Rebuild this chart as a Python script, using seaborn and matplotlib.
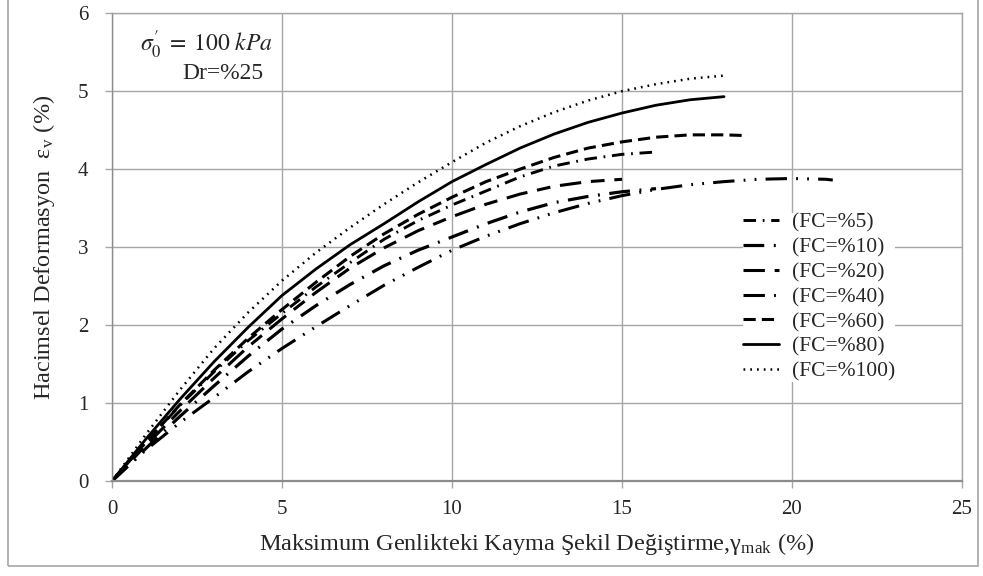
import matplotlib
matplotlib.use("Agg")
import matplotlib.pyplot as plt
from matplotlib.patches import Rectangle
import seaborn as sns

# --- values ---

fc_labels = ["(FC=%5)", "(FC=%10)", "(FC=%20)", "(FC=%40)", "(FC=%60)", "(FC=%80)", "(FC=%100)"]

fc5_x = [0, 1, 2, 3, 4, 5, 6, 7, 8, 9, 10, 11, 12, 13, 14, 15, 16]
fc5_y = [0, 0.5, 0.97, 1.4, 1.8, 2.15, 2.49, 2.8, 3.1, 3.34, 3.54, 3.72, 3.9, 4.04, 4.13, 4.19, 4.22]

fc10_x = [0, 1, 2, 3, 4, 5, 6, 7, 8, 9, 10, 11, 12, 13, 14, 15, 16]
fc10_y = [0, 0.42, 0.83, 1.22, 1.6, 1.95, 2.25, 2.52, 2.76, 2.96, 3.13, 3.3, 3.45, 3.57, 3.65, 3.71, 3.75]

fc20_x = [0, 1, 2, 3, 4, 5, 6, 7, 8, 9, 10, 11, 12, 13, 14, 15]
fc20_y = [0, 0.46, 0.9, 1.32, 1.72, 2.08, 2.42, 2.73, 2.99, 3.21, 3.39, 3.55, 3.68, 3.78, 3.84, 3.87]

fc40_x = [0, 1, 2, 3, 4, 5, 6, 7, 8, 9, 10, 11, 12, 13, 14, 15, 16, 17, 18, 19, 20, 21, 21.2]
fc40_y = [0, 0.4, 0.75, 1.07, 1.4, 1.7, 1.98, 2.25, 2.51, 2.74, 2.96, 3.14, 3.3, 3.44, 3.56, 3.66,
          3.74, 3.8, 3.84, 3.87, 3.88, 3.87, 3.86]

fc60_x = [0, 1, 2, 3, 4, 5, 6, 7, 8, 9, 10, 11, 12, 13, 14, 15, 16, 17, 18, 18.7]
fc60_y = [0, 0.5, 0.98, 1.42, 1.83, 2.2, 2.55, 2.88, 3.17, 3.42, 3.64, 3.84, 4.0, 4.15, 4.27,
          4.35, 4.41, 4.44, 4.44, 4.43]

fc80_x = [0, 1, 2, 3, 4, 5, 6, 7, 8, 9, 10, 11, 12, 13, 14, 15, 16, 17, 18]
fc80_y = [0, 0.54, 1.05, 1.53, 1.97, 2.38, 2.72, 3.03, 3.3, 3.58, 3.84, 4.06, 4.27, 4.45, 4.6,
          4.72, 4.82, 4.89, 4.93]

fc100_x = [0, 1, 2, 3, 4, 5, 6, 7, 8, 9, 10, 11, 12, 13, 14, 15, 16, 17, 18]
fc100_y = [0, 0.6, 1.17, 1.7, 2.16, 2.57, 2.93, 3.25, 3.55, 3.83, 4.09, 4.34, 4.55, 4.73, 4.88,
           5.0, 5.09, 5.16, 5.2]

x_ticks = [0, 5, 10, 15, 20, 25]
y_ticks = [0, 1, 2, 3, 4, 5, 6]

all_x = [fc5_x, fc10_x, fc20_x, fc40_x, fc60_x, fc80_x, fc100_x]
all_y = [fc5_y, fc10_y, fc20_y, fc40_y, fc60_y, fc80_y, fc100_y]

# line styles (dash lengths scale with line width)
styles = [
    (0, (4.3, 2.3, 0.6, 2.3)),
    (0, (6.5, 3.0, 0.6, 3.0)),
    (0, (7.0, 3.2, 4.5, 3.2)),
    (0, (7.0, 3.0, 0.6, 3.0, 0.6, 3.0)),
    (0, (4.0, 2.0)),
    "-",
    (0, (0.7, 2.0)),
]
widths = [2.1, 2.3, 2.2, 2.2, 2.2, 2.0, 1.8]

sns.set_style("white")
plt.rcParams["font.family"] = ["Liberation Serif", "DejaVu Serif"]
plt.rcParams["mathtext.fontset"] = "stix"

fig, ax = plt.subplots(figsize=(9.83, 5.76), dpi=100)
fig.subplots_adjust(left=0.114, right=0.9786, bottom=0.165, top=0.977)

for label, xs, ys, ls, lw in zip(fc_labels, all_x, all_y, styles, widths):
    sns.lineplot(x=xs, y=ys, ax=ax, color="black", linewidth=lw, linestyle=ls,
                 label=label, sort=False, estimator=None)

ax.set_xlim(0, 25)
ax.set_ylim(0, 6)
ax.set_xticks(x_ticks)
ax.set_yticks(y_ticks)
ax.grid(True, color="#a6a6a6", linewidth=1)
ax.set_axisbelow(True)
for side in ["left", "bottom", "top", "right"]:
    ax.spines[side].set_color("#a6a6a6")
    ax.spines[side].set_linewidth(1)
ax.spines["bottom"].set_color("#8c8c8c")
ax.spines["bottom"].set_linewidth(1.6)
ax.spines["left"].set_color("#8c8c8c")

ax.tick_params(axis="both", direction="out", length=5, width=1, color="#a6a6a6",
               labelsize=15, bottom=True, left=True)
ax.tick_params(axis="x", pad=9)
ax.tick_params(axis="y", pad=12)

ax.set_xlabel("Maksimum Genlikteki Kayma Şekil Değiştirme,γ$_\\mathregular{mak}$ (%)",
              fontsize=17.5, labelpad=8)
ax.set_ylabel("Hacimsel Deformasyon  ε$_\\mathregular{v}$ (%)", fontsize=17.5, labelpad=15)

ax.text(4.74, 5.59, r"$\sigma_0^{\prime} \;=\; 100\ kPa$", fontsize=17, ha="right", va="center")
ax.text(4.44, 5.23, "Dr=%25", fontsize=17, ha="right", va="center")

leg = ax.legend(loc="center left", bbox_to_anchor=(0.742, 0.393), fontsize=15.5,
                frameon=True, facecolor="white", edgecolor="none", framealpha=1,
                fancybox=False, handlelength=1.7, handletextpad=0.6, labelspacing=0.22,
                borderpad=0, borderaxespad=0)

# grey frame around the whole figure
fig.patches.append(Rectangle((8 / 983, 10 / 576), 970 / 983, 600 / 576, transform=fig.transFigure,
                             fill=False, edgecolor="#a6a6a6", linewidth=1.2))

fig.savefig("out.png", dpi=100)
